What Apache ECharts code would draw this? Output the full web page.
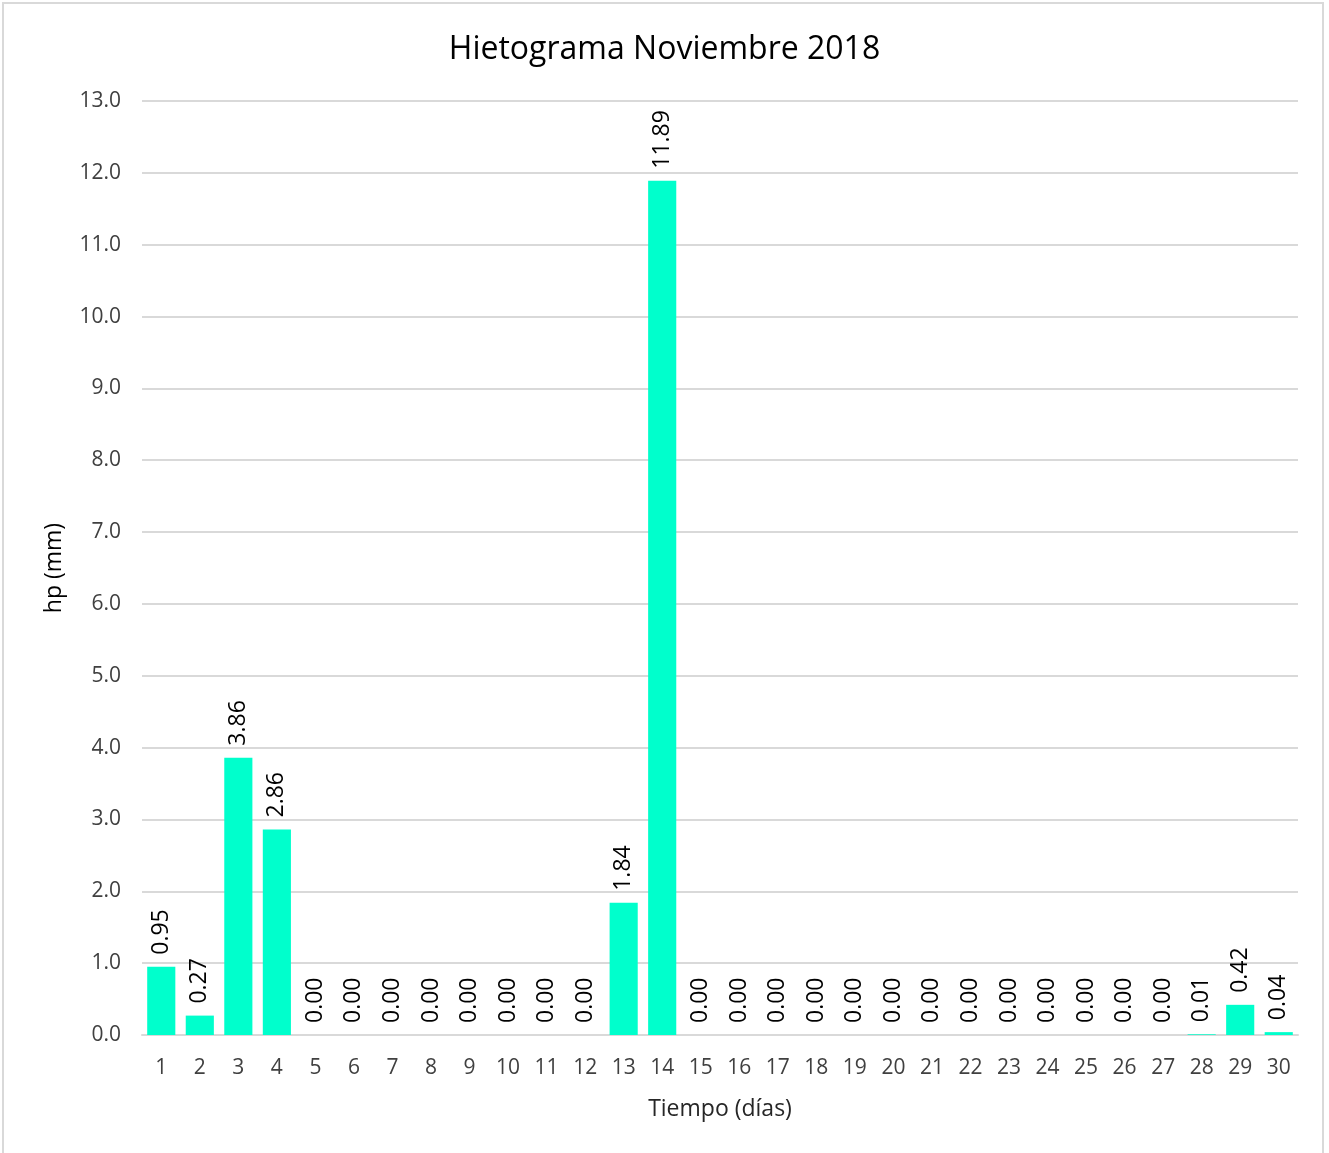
<!DOCTYPE html>
<html>
<head>
<meta charset="utf-8">
<script src="https://cdn.jsdelivr.net/npm/echarts@6/dist/echarts.min.js"></script>
<style>
  html, body { margin: 0; padding: 0; background: #fff; }
  #frame {
    position: absolute; left: 2px; top: 2px; width: 1322px; height: 1160px;
    border: 2px solid #d9d9d9; box-sizing: border-box;
  }
  #myChart { position: absolute; left: 0; top: 0; width: 1329px; height: 1153px; }
</style>
</head>
<body>
<div id="frame"></div>
<div id="myChart"></div>
<script>
// días del mes
const dias = [];
for (let d = 1; d <= 30; d++) dias.push(String(d));
// precipitación diaria (mm)
const hp = [0.95, 0.27, 3.86, 2.86, 0.00, 0.00, 0.00, 0.00, 0.00, 0.00,
            0.00, 0.00, 1.84, 11.89, 0.00, 0.00, 0.00, 0.00, 0.00, 0.00,
            0.00, 0.00, 0.00, 0.00, 0.00, 0.00, 0.00, 0.01, 0.42, 0.04];
const yMin = 0, yMax = 13, yStep = 1;

const fuente = "'Open Sans', sans-serif";
let myChart = echarts.init(document.getElementById("myChart"));
myChart.setOption({
  animation: false,
  textStyle: { fontFamily: fuente },
  title: {
    text: "Hietograma Noviembre 2018",
    left: "center",
    top: 29,
    textStyle: { fontSize: 32, fontWeight: "normal", color: "#000", fontFamily: fuente }
  },
  grid: { left: 142, right: 31, top: 101, bottom: 118 },
  xAxis: {
    type: "category",
    data: dias,
    name: "Tiempo (días)",
    nameLocation: "middle",
    nameGap: 63,
    nameTextStyle: { fontSize: 23, color: "#262626" },
    axisTick: { show: false },
    axisLine: { lineStyle: { color: "#d9d9d9", width: 2 } },
    axisLabel: { fontSize: 21, color: "#404040", margin: 23 }
  },
  yAxis: {
    type: "value",
    min: yMin,
    max: yMax,
    interval: yStep,
    name: "hp (mm)",
    nameLocation: "middle",
    nameGap: 76,
    nameTextStyle: { fontSize: 23, color: "#000" },
    axisLine: { show: false },
    axisTick: { show: false },
    axisLabel: {
      fontSize: 21, color: "#404040", margin: 21,
      formatter: v => v.toFixed(1)
    },
    splitLine: { lineStyle: { color: "#d9d9d9", width: 2 } }
  },
  series: [
    {
      type: "bar",
      data: hp,
      barCategoryGap: "27%",
      itemStyle: { color: "#00ffcc" },
      label: {
        show: true,
        position: "top",
        rotate: 90,
        align: "left",
        verticalAlign: "middle",
        distance: 12,
        fontSize: 23,
        color: "#000",
        formatter: p => p.value.toFixed(2)
      }
    }
  ]
});
</script>
</body>
</html>
